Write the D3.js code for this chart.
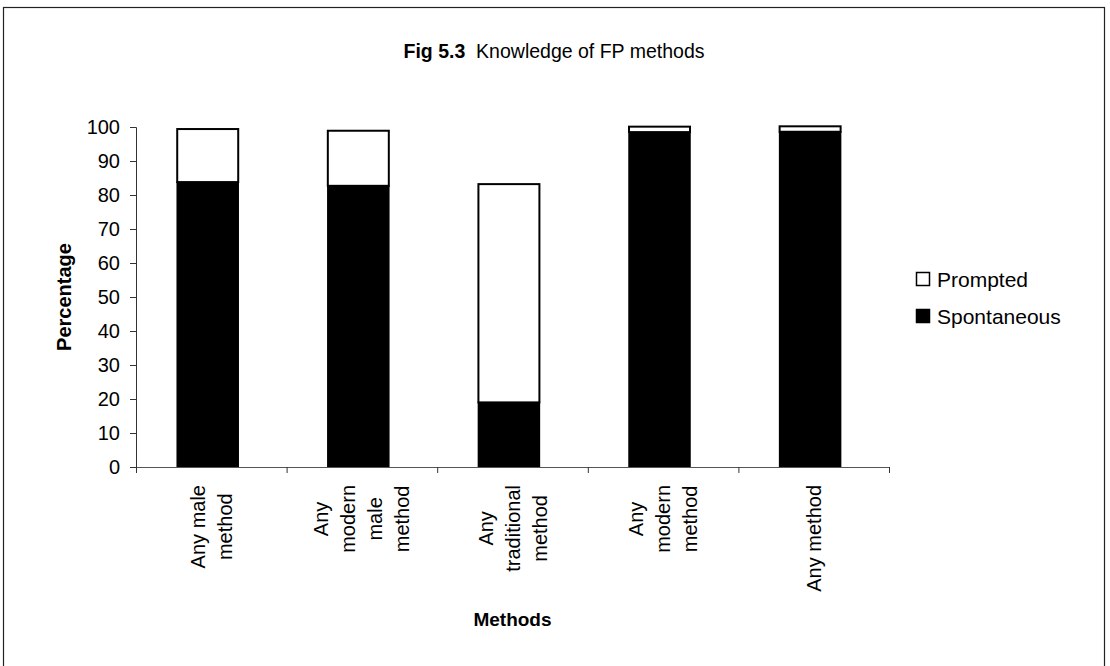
<!DOCTYPE html>
<html>
<head>
<meta charset="utf-8">
<script src="https://cdn.jsdelivr.net/npm/d3@7"></script>
<style>
  html, body { margin: 0; padding: 0; background: #fff; }
  svg { display: block; font-family: "Liberation Sans", Arial, sans-serif; }
</style>
</head>
<body>
<svg id="chart" width="1110" height="666"></svg>
<script>
// Knowledge of family-planning methods: spontaneous vs prompted recall (%)
const categories = [
  ["Any male", "method"],
  ["Any", "modern", "male", "method"],
  ["Any", "traditional", "method"],
  ["Any", "modern", "method"],
  ["Any method"]
];
const spontaneous = [83.8, 82.7, 19.0, 98.5, 98.6];
const prompted    = [15.6, 16.2, 64.2, 1.6, 1.6];
const seriesNames = ["Prompted", "Spontaneous"];
const yTicks = [0, 10, 20, 30, 40, 50, 60, 70, 80, 90, 100];

const svg = d3.select("#chart");

// outer frame
svg.append("rect")
  .attr("x", 3.5).attr("y", 7.5)
  .attr("width", 1101).attr("height", 700)
  .attr("fill", "none").attr("stroke", "#222").attr("stroke-width", 1.2);

const plot = { left: 136, right: 889, top: 127, bottom: 467 };

const idx = d3.range(categories.length);
const x = d3.scaleBand()
  .domain(idx)
  .range([plot.left, plot.right])
  .paddingInner(0.595)
  .paddingOuter(0.2975)
  .align(0.46);

// category boundaries for the axis tick marks
const xb = d3.scaleLinear().domain([0, categories.length]).range([plot.left, plot.right]);

const y = d3.scaleLinear().domain([0, 100]).range([plot.bottom, plot.top]);

// title
const title = svg.append("text")
  .attr("x", 554).attr("y", 58)
  .attr("text-anchor", "middle")
  .attr("font-size", 19.5)
  .attr("fill", "#000");
title.append("tspan").attr("font-weight", "bold").text("Fig 5.3");
title.append("tspan").attr("xml:space", "preserve").text("  Knowledge of FP methods");

// stacked bars
const g = svg.append("g");
idx.forEach(i => {
  const s = spontaneous[i], p = prompted[i];
  g.append("rect")
    .attr("x", x(i)).attr("width", x.bandwidth())
    .attr("y", y(s)).attr("height", y(0) - y(s))
    .attr("fill", "#000").attr("stroke", "#000").attr("stroke-width", 1.5);
  g.append("rect")
    .attr("x", x(i)).attr("width", x.bandwidth())
    .attr("y", y(s + p)).attr("height", y(s) - y(s + p))
    .attr("fill", "#fff").attr("stroke", "#000").attr("stroke-width", 2);
});

// y axis
const yAxis = svg.append("g")
  .attr("transform", `translate(${plot.left},0)`)
  .call(d3.axisLeft(y).tickValues(yTicks).tickSize(6).tickPadding(10).tickFormat(d3.format("d")));
yAxis.select(".domain").attr("stroke", "#333").attr("stroke-width", 1);
yAxis.selectAll(".tick line").attr("stroke", "#333");
yAxis.selectAll("text").attr("font-size", 20).attr("fill", "#000")
  .attr("font-family", "Liberation Sans, Arial, sans-serif");

// x axis line with boundary ticks
const xAxis = svg.append("g")
  .attr("transform", `translate(0,${plot.bottom})`)
  .call(d3.axisBottom(xb).tickValues(d3.range(categories.length + 1)).tickSize(6).tickFormat(""));
xAxis.select(".domain").attr("stroke", "#555").attr("stroke-width", 1);
xAxis.selectAll(".tick line").attr("stroke", "#333");

// rotated, multi-line category labels
const lineGap = 27;
idx.forEach(i => {
  const lines = categories[i];
  const cx = (xb(i) + xb(i + 1)) / 2;
  const grp = svg.append("g");
  const texts = lines.map((t, k) => grp.append("text")
    .attr("font-size", 20)
    .attr("text-anchor", "middle")
    .attr("dominant-baseline", "central")
    .attr("fill", "#000")
    .text(t));
  const maxW = d3.max(texts, t => t.node().getComputedTextLength());
  const cy = 485 + maxW / 2;
  texts.forEach((t, k) => {
    const lx = cx + (k - (lines.length - 1) / 2) * lineGap;
    t.attr("transform", `translate(${lx},${cy}) rotate(-90)`);
  });
});

// axis titles
svg.append("text")
  .attr("transform", `translate(64,${(plot.top + plot.bottom) / 2}) rotate(-90)`)
  .attr("text-anchor", "middle").attr("dominant-baseline", "central")
  .attr("font-size", 20).attr("font-weight", "bold")
  .text("Percentage");

svg.append("text")
  .attr("x", (plot.left + plot.right) / 2).attr("y", 619)
  .attr("text-anchor", "middle").attr("dominant-baseline", "central")
  .attr("font-size", 19).attr("font-weight", "bold")
  .text("Methods");

// legend
const legend = svg.append("g");
const legendFill = { "Prompted": "#fff", "Spontaneous": "#000" };
const legendY = [279, 316];
seriesNames.forEach((name, k) => {
  legend.append("rect")
    .attr("x", 916.5).attr("y", legendY[k] - 6.5)
    .attr("width", 13).attr("height", 13)
    .attr("fill", legendFill[name]).attr("stroke", "#000").attr("stroke-width", 1.5);
  legend.append("text")
    .attr("x", 937).attr("y", legendY[k])
    .attr("dominant-baseline", "central")
    .attr("font-size", 21).attr("fill", "#000")
    .text(name);
});
</script>
</body>
</html>
